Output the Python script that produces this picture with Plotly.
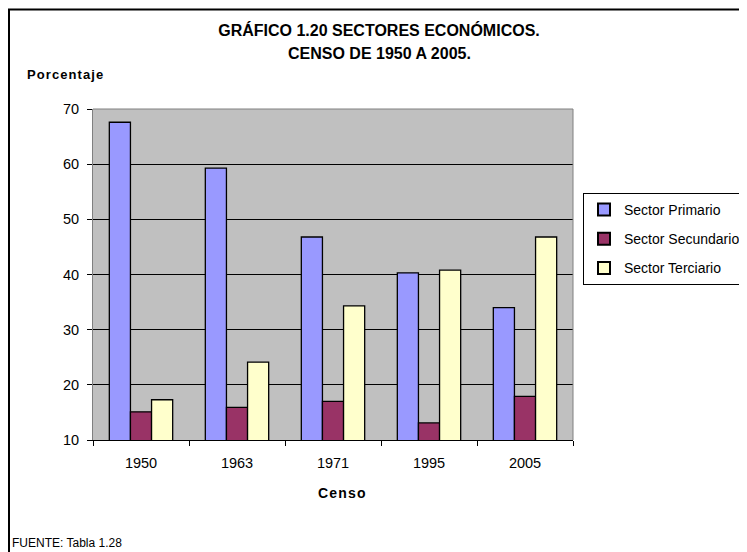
import plotly.graph_objects as go

censos = ["1950", "1963", "1971", "1995", "2005"]
primario = [67.6, 59.3, 46.8, 40.3, 34.0]
secundario = [15.1, 15.9, 17.0, 13.1, 17.9]
terciario = [17.3, 24.1, 34.3, 40.8, 46.8]
series_names = ["Sector Primario", "Sector Secundario", "Sector Terciario"]
series_colors = ["#9999FF", "#993366", "#FFFFCC"]
y_ticks = [10, 20, 30, 40, 50, 60, 70]

OFF = 8  # page body margin
W, H = 747 - OFF, 552 - OFF
L, R, T, B = 93 - OFF, 573 - OFF, 109 - OFF, 440 - OFF


def px(x):
    return (x - OFF - L) / (R - L)


def py(y):
    return (B - (y - OFF)) / (B - T)


SANS = "Liberation Sans, Arial"

fig = go.Figure()
for name, vals, col in zip(series_names, [primario, secundario, terciario], series_colors):
    fig.add_trace(go.Bar(
        x=censos, y=vals, name=name, legendgroup=name,
        marker=dict(color=col, line=dict(color="black", width=1.3)),
    ))

fig.update_layout(
    width=W, height=H,
    margin=dict(l=L, r=W - R, t=T, b=H - B, pad=0, autoexpand=False),
    paper_bgcolor="white", plot_bgcolor="#C0C0C0",
    barmode="group", bargap=0.34, bargroupgap=0,
    font=dict(family=SANS, size=14, color="black"),
    title=dict(text="<b>GRÁFICO 1.20 SECTORES ECONÓMICOS.</b>",
               x=(379 - OFF) / W, xanchor="center", xref="container",
               y=1 - (30 - OFF) / H, yanchor="middle", yref="container",
               font=dict(family=SANS, size=16, color="black")),
    showlegend=True,
    legend=dict(x=px(583), xanchor="left", y=py(193), yanchor="top",
                bgcolor="white", bordercolor="black", borderwidth=1,
                font=dict(family=SANS, size=14, color="black"),
                traceorder="grouped", tracegroupgap=8,
                itemsizing="constant"),
    xaxis=dict(showgrid=False, ticks="outside", tickson="boundaries",
               ticklen=5, tickcolor="black", showline=True, linecolor="black",
               linewidth=1, ticklabelstandoff=10,
               tickfont=dict(family=SANS, size=14.5)),
    yaxis=dict(range=[10, 70], tickvals=y_ticks, showgrid=True,
               gridcolor="black", gridwidth=1, ticks="outside", ticklen=5,
               tickcolor="black", showline=True, linecolor="#808080",
               linewidth=1, zeroline=False, ticklabelstandoff=5,
               tickfont=dict(family=SANS, size=14.5)),
)

# plot area top/right border (gray)
fig.add_shape(type="line", xref="paper", yref="paper", x0=0, x1=1, y0=1, y1=1,
              line=dict(color="#808080", width=1))
fig.add_shape(type="line", xref="paper", yref="paper", x0=1, x1=1, y0=0, y1=1,
              line=dict(color="#808080", width=1))
# outer chart border
fig.add_shape(type="rect", xref="paper", yref="paper",
              x0=px(9), x1=px(900), y0=py(9.5), y1=py(900),
              line=dict(color="black", width=2), layer="below")

fig.add_annotation(text="<b>CENSO DE 1950 A 2005.</b>", xref="paper", yref="paper",
                   x=px(379), y=py(53), xanchor="center", yanchor="middle",
                   showarrow=False, font=dict(family=SANS, size=16))
fig.add_annotation(text="<b>P&#8202;o&#8202;r&#8202;c&#8202;e&#8202;n&#8202;t&#8202;a&#8202;j&#8202;e</b>",
                   xref="paper", yref="paper",
                   x=px(25), y=py(74), xanchor="left", yanchor="middle",
                   showarrow=False, font=dict(family=SANS, size=13))
fig.add_annotation(text="<b>C&#8202;e&#8202;n&#8202;s&#8202;o</b>", xref="paper", yref="paper",
                   x=px(341), y=py(493), xanchor="center", yanchor="middle",
                   showarrow=False, font=dict(family=SANS, size=14))
fig.add_annotation(text="FUENTE: Tabla 1.28", xref="paper", yref="paper",
                   x=px(10), y=py(543), xanchor="left", yanchor="middle",
                   showarrow=False, font=dict(family=SANS, size=12))

fig.write_html("out.html")
